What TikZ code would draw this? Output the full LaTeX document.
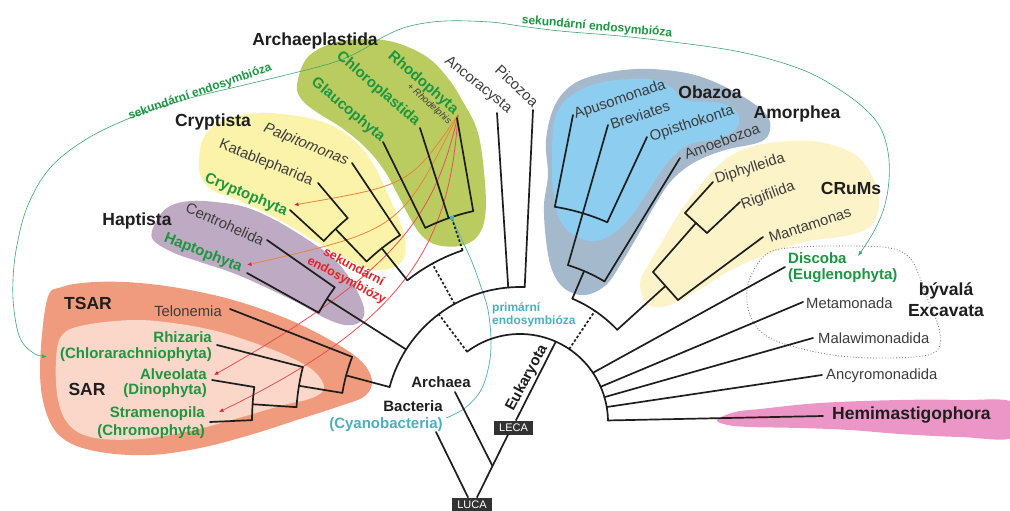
\documentclass[tikz,border=0pt]{standalone}
\usepackage{fontspec}
\setmainfont{Liberation Sans}
\usetikzlibrary{arrows.meta}
\definecolor{tgreen}{RGB}{28,150,65}
\definecolor{tgray}{RGB}{60,60,60}
\definecolor{tblack}{RGB}{30,30,30}
\definecolor{tred}{RGB}{228,35,40}
\definecolor{tcyan}{RGB}{75,175,190}
\definecolor{corange}{RGB}{236,130,60}
\definecolor{fArch}{RGB}{186,204,96}
\definecolor{fCrypt}{RGB}{252,243,170}
\definecolor{fHapt}{RGB}{190,170,195}
\definecolor{fTSAR}{RGB}{240,155,125}
\definecolor{fSAR}{RGB}{250,215,200}
\definecolor{fAmor}{RGB}{165,185,205}
\definecolor{fOba}{RGB}{140,205,240}
\definecolor{fCrum}{RGB}{253,243,200}
\definecolor{fHemi}{RGB}{236,150,200}
\definecolor{gline}{RGB}{60,165,110}
\definecolor{boxc}{RGB}{50,50,50}
\begin{document}
\begin{tikzpicture}[x=1pt,y=1pt,
  br/.style={draw=tblack,line width=1.7pt,line cap=round,line join=round},
  dsh/.style={draw=tblack,line width=1.7pt,dash pattern=on 2.5pt off 2pt},
  lab/.style={text=tgray,font=\fontsize{14.8}{16}\selectfont,inner sep=0pt},
  glab/.style={text=tgreen,font=\bfseries\fontsize{15}{17}\selectfont,inner sep=0pt},
  head/.style={text=tblack,font=\bfseries\fontsize{17.5}{19}\selectfont,inner sep=0pt},
  bhead/.style={text=tblack,font=\bfseries\fontsize{15}{17}\selectfont,inner sep=0pt},
  fanO/.style={draw=corange,line width=0.8pt,-{Latex[length=4.5pt,width=4pt,color=tred]}},
  fanR/.style={draw=tred!80,line width=0.8pt,-{Latex[length=4.5pt,width=4pt,color=tred]}},
  ubox/.style={fill=boxc,text=white,font=\fontsize{11}{12}\selectfont,inner sep=0pt,minimum height=14pt}]

\useasboundingbox (0,0) rectangle (1010,-511);
\fill[white] (0,0) rectangle (1010,-511);

% ---------- blobs ----------
\fill[fTSAR] plot[smooth cycle,tension=0.6] coordinates {(47,-300) (62,-287) (95,-282) (140,-283) (190,-290) (240,-302) (290,-320) (330,-340) (360,-360) (372,-380) (365,-396) (340,-406) (300,-419) (250,-435) (200,-448) (150,-455) (100,-452) (65,-440) (47,-415) (40,-370)};
\fill[fSAR] plot[smooth cycle,tension=0.6] coordinates {(62,-335) (85,-325) (135,-320) (180,-324) (220,-332) (260,-345) (292,-358) (315,-372) (324,-388) (312,-398) (280,-406) (235,-419) (190,-431) (140,-439) (95,-438) (70,-426) (58,-400) (56,-360)};
\fill[fHapt] plot[smooth cycle,tension=0.6] coordinates {(152,-238) (158,-218) (170,-206) (190,-201) (215,-202) (245,-207) (275,-220) (305,-238) (333,-258) (352,-282) (364,-308) (360,-322) (345,-325) (325,-318) (300,-304) (265,-287) (233,-273) (200,-262) (172,-252)};
\fill[fCrypt] plot[smooth cycle,tension=0.6] coordinates {(199,-160) (204,-137) (222,-121) (255,-113) (290,-115) (320,-121) (340,-130) (360,-146) (374,-165) (386,-190) (397,-215) (405,-238) (404,-258) (392,-268) (370,-269) (345,-258) (320,-244) (290,-226) (262,-211) (235,-199) (212,-190) (201,-177)};
\fill[fArch] plot[smooth cycle,tension=0.6] coordinates {(297,-85) (307,-58) (333,-43) (367,-39) (397,-43) (427,-57) (447,-77) (462,-100) (478,-133) (485,-183) (485,-217) (477,-237) (460,-246) (437,-245) (422,-236) (410,-218) (398,-195) (384,-170) (366,-148) (342,-128) (318,-113) (302,-100)};
\fill[fAmor] plot[smooth cycle,tension=0.6] coordinates {(548,-175) (546,-140) (555,-105) (575,-83) (610,-72) (650,-69) (695,-75) (735,-92) (765,-113) (770,-130) (760,-142) (725,-150) (695,-162) (672,-180) (655,-205) (638,-235) (622,-262) (606,-285) (585,-295) (565,-289) (552,-270) (546,-240) (544,-205)};
\fill[fOba] plot[smooth cycle,tension=0.6] coordinates {(552,-150) (555,-118) (568,-98) (595,-84) (630,-79) (655,-80) (672,-88) (686,-100) (720,-103) (737,-112) (737,-128) (718,-139) (690,-144) (668,-162) (650,-188) (633,-214) (614,-233) (596,-241) (577,-237) (561,-222) (553,-190)};
\fill[fCrum] plot[smooth cycle,tension=0.6] coordinates {(640,-283) (650,-262) (663,-240) (678,-215) (698,-188) (722,-162) (750,-147) (790,-141) (825,-143) (857,-156) (874,-180) (879,-205) (870,-227) (845,-236) (815,-240) (787,-247) (737,-267) (700,-289) (670,-305) (648,-305)};
\fill[fHemi] plot[smooth cycle,tension=0.6] coordinates {(717,-420) (735,-412) (760,-409) (820,-403) (900,-400) (960,-400) (1015,-403) (1015,-437) (960,-437) (900,-434) (850,-430) (800,-428) (750,-427) (728,-425)};
\draw[gray,dotted,line width=0.9pt] plot[smooth cycle,tension=0.6] coordinates {(755,-268) (770,-252) (800,-247) (850,-246) (890,-248) (910,-258) (920,-278) (928,-300) (938,-325) (940,-345) (928,-355) (890,-358) (840,-356) (795,-347) (765,-335) (750,-315) (747,-290)};

% ---------- secondary endosymbiosis (green) ----------
\draw[gline,line width=0.6pt,{Latex[length=5pt,width=4pt]}-{Latex[length=5pt,width=4pt]}] plot[smooth,tension=0.6] coordinates {(47,-357) (32,-352) (20,-338) (14,-310) (13,-280) (17,-245) (28,-205) (50,-168) (85,-140) (130,-118) (183,-100) (240,-86) (290,-74) (335,-62) (362,-50) (385,-36) (410,-26) (445,-21) (490,-22) (520,-26) (560,-31) (620,-36) (673,-42) (730,-50) (773,-60) (810,-73) (840,-90) (864,-108) (880,-127) (888,-152) (889,-180) (884,-208) (873,-233) (858,-256)};

% ---------- primary endosymbiosis (cyan) ----------
\draw[tcyan,line width=0.7pt] plot[smooth,tension=0.6] coordinates {(452,-218) (462,-240) (472,-262) (481,-287) (488,-310) (491,-340) (489,-365) (481,-390) (465,-408) (446,-418)};

% ---------- red fan ----------
\coordinate (fo) at (458,-115);
\coordinate (ArrC) at (294,-205);
\coordinate (ArrH) at (247,-265);
\coordinate (ArrA) at (214,-375);
\coordinate (ArrS) at (219,-412);
\draw[fanO] (fo) .. controls (410,-185) .. (ArrC);
\draw[fanO] (fo) .. controls (400,-230) .. (ArrH);
\draw[fanR] (fo) .. controls (435,-215) and (400,-270) .. (ArrA);
\draw[fanR] (fo) .. controls (450,-240) and (410,-320) .. (ArrS);

% ---------- tree coordinates ----------
\coordinate (C) at (520,-422);
\coordinate (i127) at ([shift={(127:88)}]C);
\coordinate (i66) at ([shift={(66:88)}]C);
\coordinate (i56) at ([shift={(56:88)}]C);
\coordinate (i34) at ([shift={(34:88)}]C);
\coordinate (i24) at ([shift={(23.6:88)}]C);
\coordinate (i16) at ([shift={(16.4:88)}]C);
\coordinate (i10) at ([shift={(9.8:88)}]C);
\coordinate (i1) at ([shift={(1:88)}]C);
\coordinate (m165) at ([shift={(165:135)}]C);
\coordinate (m147) at ([shift={(147.5:135)}]C);
\coordinate (m127) at ([shift={(127:135)}]C);
\coordinate (m119) at ([shift={(119:135)}]C);
\coordinate (m95) at ([shift={(95:135)}]C);
\coordinate (m88) at ([shift={(88:135)}]C);
\coordinate (u128) at ([shift={(128.5:181)}]C);
\coordinate (u119) at ([shift={(119:181)}]C);
\coordinate (u108) at ([shift={(108.5:181)}]C);
\coordinate (a108) at ([shift={(108.5:216)}]C);
\coordinate (a116) at ([shift={(116:216)}]C);
\coordinate (a109) at ([shift={(109.3:216)}]C);
\coordinate (a102) at ([shift={(102.5:216)}]C);
\coordinate (c128) at ([shift={(128.5:222)}]C);
\coordinate (c133) at ([shift={(133.7:222)}]C);
\coordinate (c122) at ([shift={(122.7:222)}]C);
\coordinate (k133) at ([shift={(133.7:267)}]C);
\coordinate (k130) at ([shift={(130.2:267)}]C);
\coordinate (k137) at ([shift={(137.3:267)}]C);
\coordinate (h147) at ([shift={(147.5:229)}]C);
\coordinate (h144) at ([shift={(144:229)}]C);
\coordinate (h151) at ([shift={(151.5:229)}]C);
\coordinate (t165) at ([shift={(165:180)}]C);
\coordinate (t158) at ([shift={(158.8:180)}]C);
\coordinate (t170) at ([shift={(170.7:180)}]C);
\coordinate (s170) at ([shift={(170.7:224)}]C);
\coordinate (s165) at ([shift={(165.8:224)}]C);
\coordinate (s176) at ([shift={(176.2:224)}]C);
\coordinate (q176) at ([shift={(176.2:268)}]C);
\coordinate (q172) at ([shift={(172.5:268)}]C);
\coordinate (q179) at ([shift={(179.6:268)}]C);
\coordinate (r67) at ([shift={(67:134)}]C);
\coordinate (r56) at ([shift={(56:134)}]C);
\coordinate (r43) at ([shift={(43.5:134)}]C);
\coordinate (am67) at ([shift={(67:164)}]C);
\coordinate (am73) at ([shift={(73:164)}]C);
\coordinate (am59) at ([shift={(59:164)}]C);
\coordinate (ob80) at ([shift={(80.8:218)}]C);
\coordinate (ob66) at ([shift={(66.4:218)}]C);
\coordinate (crA) at (653,-272);
\coordinate (crB) at (678,-300);
\coordinate (crM) at (665.5,-286);
\coordinate (dA) at (685,-213);
\coordinate (dB) at (707,-233);
\coordinate (dM) at (696,-223);
% leaf ends
\coordinate (gl) at (383,-142);
\coordinate (ch) at (420,-128);
\coordinate (rh) at (457,-118);
\coordinate (anc) at (497,-113);
\coordinate (pic) at (533,-110);
\coordinate (pal) at (352,-163);
\coordinate (kat) at (318,-183);
\coordinate (cry) at (290,-210);
\coordinate (cen) at (267,-240);
\coordinate (hap) at (247,-273);
\coordinate (tel) at (230,-309);
\coordinate (rhi) at (217,-345);
\coordinate (alv) at (212,-380);
\coordinate (str) at (210,-422);
\coordinate (apu) at (573,-115);
\coordinate (bre) at (608,-125);
\coordinate (opi) at (647,-137);
\coordinate (amo) at (680,-158);
\coordinate (dip) at (713,-182);
\coordinate (rig) at (740,-202);
\coordinate (man) at (763,-237);
\coordinate (dis) at (785,-267);
\coordinate (met) at (803,-302);
\coordinate (mal) at (813,-338);
\coordinate (ancy) at (822,-375);
\coordinate (hem) at (823,-416);
\coordinate (bac) at (436,-432);
\coordinate (arch) at (455,-392);
\coordinate (aj) at (492.5,-466);

% ---------- arcs ----------
\draw[br] (i127) arc[start angle=127,end angle=1,radius=88];
\draw[br] (m165) arc[start angle=165,end angle=88,radius=135];
\draw[br] (u128) arc[start angle=128.5,end angle=108.5,radius=181];
\draw[br] (a116) arc[start angle=116,end angle=102.5,radius=216];
\draw[br] (c133) arc[start angle=133.7,end angle=122.7,radius=222];
\draw[br] (k137) arc[start angle=137.3,end angle=130.2,radius=267];
\draw[br] (h144) arc[start angle=144,end angle=151.5,radius=229];
\draw[br] (t158) arc[start angle=158.8,end angle=170.7,radius=180];
\draw[br] (s165) arc[start angle=165.8,end angle=176.2,radius=224];
\draw[br] (q172) arc[start angle=172.5,end angle=179.6,radius=268];
\draw[br] (r67) arc[start angle=67,end angle=43.5,radius=134];
\draw[br] (am73) arc[start angle=73,end angle=59,radius=164];
\draw[br] (ob80) arc[start angle=80.8,end angle=66.4,radius=218];

% ---------- stems ----------
\draw[dsh] (i127) -- (m127);
\draw[dsh] (m119) -- (u119);
\draw[dsh] (u108) -- (a108);
\draw[dsh] (i56) -- (r56);
\draw[br] (m165) -- (t165);
\draw[br] (m147) -- (h147);
\draw[br] (u128) -- (c128);
\draw[br] (c133) -- (k133);
\draw[br] (t170) -- (s170);
\draw[br] (s176) -- (q176);
\draw[br] (r67) -- (am67);
\draw[br] (r43) -- (crM);
\draw[br] (crA) -- (crB);
\draw[br] (crA) -- (dM);
\draw[br] (dA) -- (dB);

% ---------- leaves ----------
\draw[br] (a116) -- (gl);
\draw[br] (a109) -- (ch);
\draw[br] (a102) -- (rh);
\draw[br] (c122) -- (pal);
\draw[br] (k130) -- (kat);
\draw[br] (k137) -- (cry);
\draw[br] (h144) -- (cen);
\draw[br] (h151) -- (hap);
\draw[br] (t158) -- (tel);
\draw[br] (s165) -- (rhi);
\draw[br] (q172) -- (alv);
\draw[br] (q179) -- (str);
\draw[br] (m95) -- (anc);
\draw[br] (m88) -- (pic);
\draw[br] (am73) -- (bre);
\draw[br] (am59) -- (amo);
\draw[br] (ob80) -- (apu);
\draw[br] (ob66) -- (opi);
\draw[br] (dA) -- (dip);
\draw[br] (dB) -- (rig);
\draw[br] (crB) -- (man);
\draw[br] (i34) -- (dis);
\draw[br] (i24) -- (met);
\draw[br] (i16) -- (mal);
\draw[br] (i10) -- (ancy);
\draw[br] (i1) -- (hem);

% ---------- root ----------
\node[ubox,minimum width=40pt] (LUCA) at (472,-504.5) {LUCA};
\node[ubox,minimum width=39pt] (LECA) at (513.5,-427.5) {LECA};
\draw[br] (bac) -- ([xshift=-4pt]LUCA.north);
\draw[br] ([xshift=5pt]LUCA.north) -- ([xshift=-5.5pt]LECA.south);
\draw[br] (arch) -- (aj);
\draw[br] ([xshift=2.5pt]LECA.north) -- (i66);
\fill[tcyan] (450,-216) rectangle (454,-220);

% ---------- labels ----------
\node[head] (nArch) at (315,-41) {Archaeplastida};
\node[glab,rotate=-40] (nGlau) at (348,-110) {Glaucophyta};
\node[glab,rotate=-41] (nChlo) at (378,-89) {Chloroplastida};
\node[glab,rotate=-41] (nRhod) at (423,-83) {Rhodophyta};
\node[text=tgray,font=\fontsize{9.5}{10}\selectfont,inner sep=0pt,rotate=-42] (nRhdl) at (429,-104) {+ \textit{Rhodelphis}};
\node[lab,rotate=-39] (nAnco) at (478,-85) {Ancoracysta};
\node[lab,rotate=-43] (nPico) at (517,-86) {Picozoa};
\node[head] (nCrypt) at (213,-122) {Cryptista};
\node[lab,font=\itshape\fontsize{14.8}{16}\selectfont,rotate=-22] (nPalp) at (306,-145) {Palpitomonas};
\node[lab,rotate=-22] (nKata) at (266,-163) {Katablepharida};
\node[glab,rotate=-23] (nCryp) at (246,-195) {Cryptophyta};
\node[head] (nHapt) at (137,-221) {Haptista};
\node[lab,rotate=-24] (nCent) at (225,-224) {Centrohelida};
\node[glab,rotate=-22] (nHapo) at (203,-253) {Haptophyta};
\node[head] (nTSAR) at (88,-303) {TSAR};
\node[head] (nSAR) at (87,-389) {SAR};
\node[lab] (nTelo) at (188,-311) {Telonemia};
\node[glab,anchor=east] (nRhiz) at (212,-337) {Rhizaria};
\node[glab,anchor=east] (nChlr) at (212,-355) {(Chlorarachniophyta)};
\node[glab,anchor=east] (nAlve) at (207,-374) {Alveolata};
\node[glab,anchor=east] (nDino) at (207,-391) {(Dinophyta)};
\node[glab,anchor=east] (nStra) at (205,-414) {Stramenopila};
\node[glab,anchor=east] (nChro) at (205,-432) {(Chromophyta)};
\node[bhead] (nArcha) at (441,-382) {Archaea};
\node[bhead] (nBact) at (413,-406) {Bacteria};
\node[bhead,text=tcyan] (nCyan) at (386,-425) {(Cyanobacteria)};
\node[bhead,rotate=62] (nEuk) at (527,-378) {Eukaryota};
\node[text=tcyan,font=\bfseries\fontsize{12}{12.5}\selectfont,inner sep=0pt,anchor=west,align=left] (nPrim) at (492,-315) {primární\\endosymbióza};
\node[text=tred,font=\bfseries\fontsize{12.5}{15}\selectfont,inner sep=0pt,align=center,rotate=-28] (nSek) at (350,-274) {sekundární\\endosymbiózy};
\node[text=tgreen,font=\bfseries\fontsize{12}{13}\selectfont,inner sep=0pt,rotate=19] (nSekL) at (200,-92) {sekundární endosymbióza};
\node[text=tgreen,font=\bfseries\fontsize{12}{13}\selectfont,inner sep=0pt,rotate=-5] (nSekR) at (597,-27) {sekundární endosymbióza};
\node[lab,rotate=18.6] (nApus) at (620,-100) {Apusomonada};
\node[lab,rotate=18] (nBrev) at (640,-115) {Breviates};
\node[lab,rotate=18] (nOpis) at (692,-124) {Opisthokonta};
\node[head] (nObaz) at (710,-92) {Obazoa};
\node[head] (nAmor) at (797,-114) {Amorphea};
\node[lab,rotate=20] (nAmoe) at (722,-141) {Amoebozoa};
\node[lab,rotate=18] (nDiph) at (750,-169) {Diphylleida};
\node[lab,rotate=20] (nRigi) at (768,-196) {Rigifilida};
\node[head] (nCRuM) at (851,-188) {CRuMs};
\node[lab,rotate=18] (nMant) at (810,-225) {Mantamonas};
\node[glab,anchor=west] (nDisc) at (788,-258) {Discoba};
\node[glab,anchor=west] (nEugl) at (788,-276) {(Euglenophyta)};
\node[lab,anchor=west] (nMeta) at (806,-303) {Metamonada};
\node[lab,anchor=west] (nMala) at (818,-338) {Malawimonadida};
\node[lab,anchor=west] (nAncy) at (826,-376) {Ancyromonadida};
\node[head,anchor=west] (nHemi) at (832,-415) {Hemimastigophora};
\node[head] (nByv) at (946,-291) {bývalá};
\node[head] (nExc) at (946,-311) {Excavata};
\end{tikzpicture}
\end{document}
